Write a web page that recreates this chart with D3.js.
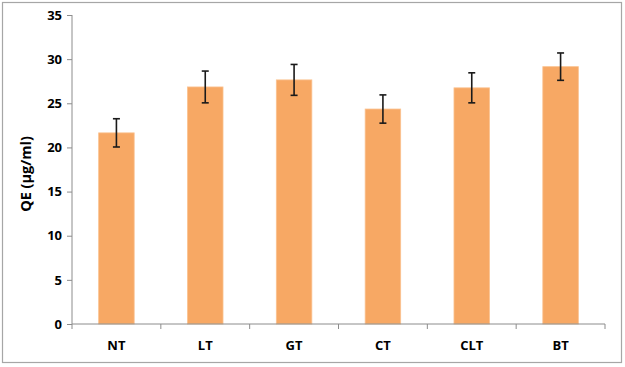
<!DOCTYPE html>
<html><head><meta charset="utf-8">
<script src="https://cdn.jsdelivr.net/npm/d3@7"></script>
<style>body{margin:0;background:#fff}svg{display:block}text{font-family:"Open Sans",sans-serif;font-weight:bold}</style>
</head><body><svg id="c" width="625" height="367"></svg>
<script>
const categories = ["NT","LT","GT","CT","CLT","BT"];
const values = [21.65, 26.85, 27.65, 24.35, 26.75, 29.15];
const errors = [1.6, 1.8, 1.75, 1.6, 1.7, 1.55];
const yTicks = [0,5,10,15,20,25,30,35];

const svg = d3.select("#c");
svg.append("rect").attr("x",2.5).attr("y",2.5).attr("width",619).attr("height",360)
  .attr("fill","#fff").attr("stroke","#a6a6a6").attr("stroke-width",1.2);

const x = d3.scaleBand().domain(categories).range([72,605]).padding(0);
const y = d3.scaleLinear().domain([0,35]).range([324,15]);
const barW = x.bandwidth()*0.4;

const yAxis = svg.append("g").attr("transform","translate(72,0)")
  .call(d3.axisLeft(y).tickValues(yTicks).tickSize(5).tickPadding(5));
yAxis.selectAll("path,line").attr("stroke","#8c8c8c");
yAxis.select(".domain").attr("d","M0,15V324");
yAxis.selectAll("text").attr("font-size",13).attr("fill","#000").attr("font-family","'Open Sans',sans-serif");

svg.append("g").selectAll("rect").data(categories).join("rect")
  .attr("x",d=>x(d)+x.bandwidth()/2-barW/2)
  .attr("width",barW)
  .attr("y",(d,i)=>y(values[i]))
  .attr("height",(d,i)=>y(0)-y(values[i]))
  .attr("fill","#F7A864").attr("stroke","#FAC290").attr("stroke-width",0.8);

const xAxis = svg.append("g").attr("transform","translate(0,324)")
  .call(d3.axisBottom(x).tickSize(0).tickPadding(17));
xAxis.select(".domain").attr("stroke","#8c8c8c").attr("d","M72,0H605");
xAxis.selectAll("text").attr("font-size",13).attr("fill","#000").attr("font-family","'Open Sans',sans-serif");
const bounds = categories.map(c=>x(c)).concat([x.range()[1]]);
svg.append("g").selectAll("line").data(bounds).join("line")
  .attr("x1",d=>d).attr("x2",d=>d).attr("y1",324).attr("y2",329).attr("stroke","#8c8c8c");

const eb = svg.append("g").attr("stroke","#1a1a1a").attr("stroke-width",1.6);
categories.forEach((c,i)=>{
  const cx = x(c)+x.bandwidth()/2;
  const t = y(values[i]+errors[i]), b = y(values[i]-errors[i]);
  eb.append("line").attr("x1",cx).attr("x2",cx).attr("y1",t).attr("y2",b);
  eb.append("line").attr("x1",cx-3.5).attr("x2",cx+3.5).attr("y1",t).attr("y2",t);
  eb.append("line").attr("x1",cx-3.5).attr("x2",cx+3.5).attr("y1",b).attr("y2",b);
});

svg.append("text").attr("transform","translate(31,174) rotate(-90)")
  .attr("text-anchor","middle").attr("font-size",14.5).attr("fill","#000")
  .text("QE (µg/ml)");
</script></body></html>
